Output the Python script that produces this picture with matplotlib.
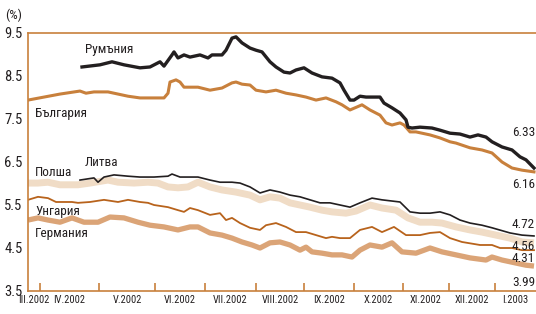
import matplotlib.pyplot as plt
from matplotlib import font_manager

# x is the observation index (trading days from late March 2002)
romania_x = [27, 36, 42, 48, 56, 61, 66, 68, 72, 73, 75, 78, 81, 86, 90, 92, 97, 99,
             102, 104, 107, 111, 114, 117, 121, 124, 128, 131, 134, 138, 142, 147, 152,
             156, 158, 161, 163, 166, 169, 176, 178, 182, 186, 189, 190, 192, 196, 202,
             206, 211, 216, 221, 225, 229, 232, 237, 242, 246, 249, 253]
romania_y = [8.71, 8.76, 8.83, 8.76, 8.69, 8.71, 8.83, 8.73, 8.99, 9.06, 8.92, 8.99, 8.94,
             8.99, 8.92, 8.99, 8.99, 9.10, 9.38, 9.41, 9.27, 9.15, 9.10, 9.06, 8.83, 8.71,
             8.59, 8.57, 8.64, 8.69, 8.57, 8.48, 8.45, 8.34, 8.17, 7.94, 7.94, 8.03, 8.01,
             8.01, 7.87, 7.76, 7.64, 7.48, 7.31, 7.29, 7.31, 7.29, 7.24, 7.17, 7.15, 7.08,
             7.13, 7.08, 6.97, 6.85, 6.78, 6.62, 6.55, 6.36]

bulgaria_x = [0, 8, 16, 26, 29, 33, 40, 43, 50, 56, 61, 68, 70, 71, 74, 76, 78, 81, 85, 91,
              97, 102, 104, 107, 111, 114, 119, 124, 129, 134, 139, 144, 149, 154, 157, 161,
              167, 171, 176, 179, 182, 186, 188, 191, 194, 201, 206, 211, 214, 221, 227,
              232, 237, 242, 247, 253]
bulgaria_y = [7.94, 8.01, 8.08, 8.15, 8.10, 8.13, 8.13, 8.10, 8.03, 7.99, 7.99, 7.99, 8.10,
              8.36, 8.41, 8.36, 8.24, 8.24, 8.24, 8.17, 8.22, 8.34, 8.36, 8.31, 8.29, 8.17,
              8.13, 8.17, 8.10, 8.06, 8.01, 7.94, 7.99, 7.90, 7.83, 7.71, 7.83, 7.71, 7.59,
              7.41, 7.36, 7.41, 7.36, 7.20, 7.20, 7.13, 7.06, 6.97, 6.94, 6.83, 6.78, 6.71,
              6.50, 6.36, 6.31, 6.27]

lithuania_x = [26, 33, 35, 38, 43, 50, 56, 63, 70, 72, 76, 85, 91, 96, 102, 106, 111, 116,
               121, 126, 131, 136, 141, 146, 151, 156, 161, 166, 172, 177, 186, 191, 196,
               201, 206, 211, 216, 221, 227, 232, 241, 247, 253]
lithuania_y = [6.08, 6.13, 6.03, 6.15, 6.20, 6.17, 6.15, 6.15, 6.17, 6.22, 6.15, 6.15, 6.08,
               6.03, 6.03, 6.01, 5.92, 5.78, 5.85, 5.80, 5.73, 5.69, 5.62, 5.55, 5.55, 5.50,
               5.45, 5.55, 5.66, 5.62, 5.57, 5.34, 5.31, 5.31, 5.34, 5.27, 5.15, 5.08, 5.03,
               4.97, 4.85, 4.80, 4.78]

poland_x = [0, 5, 10, 16, 25, 31, 40, 45, 53, 60, 65, 70, 75, 80, 85, 91, 97, 104, 111,
            116, 121, 126, 131, 136, 141, 147, 152, 159, 164, 171, 177, 184, 190, 196, 202,
            207, 214, 221, 227, 234, 241, 247, 253]
poland_y = [6.01, 6.01, 6.03, 5.97, 5.97, 6.01, 6.08, 6.03, 6.01, 6.03, 6.01, 5.92, 5.90,
            5.92, 6.03, 5.92, 5.85, 5.80, 5.73, 5.62, 5.69, 5.66, 5.55, 5.50, 5.45, 5.38,
            5.34, 5.31, 5.36, 5.50, 5.43, 5.38, 5.20, 5.10, 5.10, 5.08, 4.99, 4.92, 4.87,
            4.80, 4.73, 4.64, 4.62]

hungary_x = [0, 5, 10, 14, 22, 25, 31, 38, 45, 50, 56, 60, 63, 70, 75, 78, 81, 85, 91, 96,
             99, 102, 106, 111, 116, 119, 124, 129, 134, 139, 144, 149, 152, 156, 161, 166,
             172, 177, 183, 189, 196, 201, 206, 211, 217, 226, 232, 236, 242, 247, 253]
hungary_y = [5.62, 5.69, 5.66, 5.57, 5.57, 5.55, 5.57, 5.62, 5.57, 5.62, 5.57, 5.55, 5.50,
             5.45, 5.38, 5.34, 5.43, 5.38, 5.27, 5.31, 5.15, 5.20, 5.08, 4.97, 4.92, 5.03,
             5.08, 4.99, 4.87, 4.87, 4.80, 4.73, 4.76, 4.73, 4.73, 4.92, 4.99, 4.87, 4.99,
             4.80, 4.80, 4.85, 4.87, 4.73, 4.64, 4.57, 4.57, 4.50, 4.50, 4.45, 4.45]

germany_x = [0, 5, 10, 16, 22, 28, 35, 41, 48, 55, 61, 68, 75, 81, 85, 91, 97, 102, 107,
             112, 116, 121, 126, 131, 136, 139, 142, 147, 152, 157, 162, 166, 171, 177,
             182, 187, 194, 201, 207, 214, 221, 229, 232, 237, 244, 249, 253]
germany_y = [5.15, 5.20, 5.15, 5.10, 5.20, 5.10, 5.10, 5.22, 5.20, 5.10, 5.03, 4.99, 4.92,
             4.99, 4.99, 4.85, 4.80, 4.73, 4.64, 4.57, 4.50, 4.62, 4.64, 4.57, 4.45, 4.52,
             4.41, 4.38, 4.34, 4.34, 4.29, 4.45, 4.57, 4.52, 4.62, 4.41, 4.38, 4.50, 4.41,
             4.34, 4.27, 4.22, 4.29, 4.22, 4.15, 4.10, 4.08]

month_bounds = [6, 35.5, 63.5, 88.5, 114, 138, 163, 187.5, 210.5, 233.5]
month_labels = ['III.2002', 'IV.2002', 'V.2002', 'VI.2002', 'VII.2002', 'VIII.2002',
                'IX.2002', 'X.2002', 'XI.2002', 'XII.2002', 'I.2003']
y_ticks = [3.5, 4.5, 5.5, 6.5, 7.5, 8.5, 9.5]
end_labels = ['6.33', '6.16', '4.72', '4.56', '4.31', '3.99']

# condensed font, as in the original
names = {f.name for f in font_manager.fontManager.ttflist}
font = next((f for f in ['Roboto Condensed', 'PT Sans Narrow'] if f in names), 'DejaVu Sans')
plt.rcParams['font.family'] = [font, 'DejaVu Sans']

brown = '#c8803c'
ink = '#231f20'
fig = plt.figure(figsize=(5.36, 3.14), dpi=100)
ax = fig.add_axes([28 / 536, 1 - 291 / 314, 1 - 28 / 536, 258 / 314])

ax.plot(poland_x, poland_y, color='#f0dcc6', lw=5.0, solid_capstyle='butt')
ax.plot(germany_x, germany_y, color='#dba477', lw=3.8, solid_capstyle='butt')
ax.plot(hungary_x, hungary_y, color='#b8631c', lw=1.3)
ax.plot(lithuania_x, lithuania_y, color=ink, lw=1.2)
ax.plot(bulgaria_x, bulgaria_y, color=brown, lw=2.2)
ax.plot(romania_x, romania_y, color=ink, lw=2.4)

ax.set_xlim(0, 254)
ax.set_ylim(3.5, 9.5)

for side in ['left', 'top', 'bottom']:
    ax.spines[side].set_color(brown)
    ax.spines[side].set_linewidth(1.2)
ax.spines['right'].set_visible(False)

ax.set_yticks(y_ticks)
ax.set_yticklabels([str(t) for t in y_ticks], fontsize=10.5, color=ink)
ax.tick_params(axis='y', length=0, pad=4)

ax.set_xticks(month_bounds)
ax.set_xticklabels([])
ax.tick_params(axis='x', which='major', direction='in', length=6, width=1.2, color=brown)
edges = [0] + month_bounds + [254]
centers = [(edges[i] + edges[i + 1]) / 2 for i in range(len(edges) - 1)]
ax.set_xticks(centers, minor=True)
ax.set_xticklabels(month_labels, minor=True, fontsize=7.5, color=ink)
ax.tick_params(axis='x', which='minor', length=0, pad=3)

fig.text(5 / 536, 1 - 15 / 314, '(%)', fontsize=9.5, va='center', color=ink)

names_pos = [('Румъния', 85, 50), ('България', 35, 113), ('Литва', 85, 163),
             ('Полша', 35, 172), ('Унгария', 35, 212), ('Германия', 35, 234)]
for txt, px, py in names_pos:
    fig.text(px / 536, 1 - py / 314, txt, fontsize=9.5, va='center', color=ink)

end_py = [133, 185, 224, 247, 259, 282]
for txt, py in zip(end_labels, end_py):
    fig.text(535 / 536, 1 - py / 314, txt, fontsize=9.5, va='center', ha='right',
             color=ink)

fig.savefig('out.png', dpi=100)
